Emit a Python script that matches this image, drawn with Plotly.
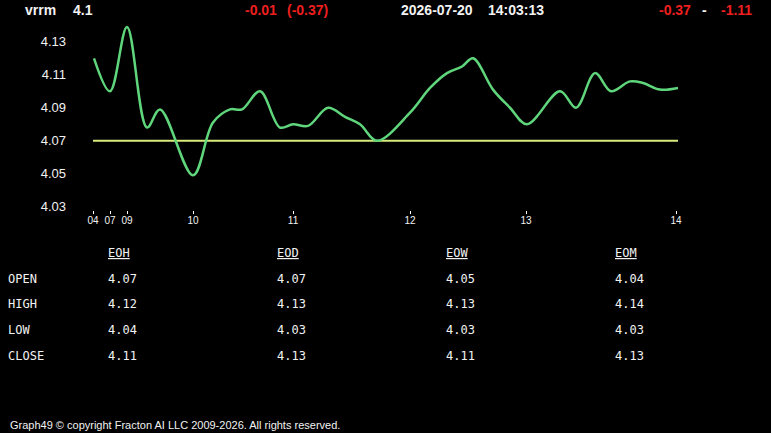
import plotly.graph_objects as go

# ---- data ----
t_pos = [1, 17, 34, 54, 67, 100, 120, 137, 149, 167, 187, 200, 215, 235, 252, 267, 284,
         317, 337, 354, 369, 380, 400, 417, 434, 467, 483, 502, 518, 537, 550, 567, 585]
prices = [4.120, 4.100, 4.139, 4.078, 4.089, 4.049, 4.081, 4.089, 4.089, 4.100, 4.078,
          4.080, 4.079, 4.090, 4.0845, 4.080, 4.070, 4.087, 4.102, 4.111, 4.115, 4.120,
          4.101, 4.090, 4.080, 4.100, 4.090, 4.111, 4.100, 4.106, 4.105, 4.101, 4.102]
ref_t = [0, 585]
ref_level = [4.07, 4.07]

tick_pos = [0, 17, 34, 100, 200, 317, 433, 583]
tick_labels = ["04", "07", "09", "10", "11", "12", "13", "14"]
y_ticks = [4.03, 4.05, 4.07, 4.09, 4.11, 4.13]

symbol = "vrrm"
last = "4.1"
change = "-0.01"
change_pct = "(-0.37)"
date_str = "2026-07-20"
time_str = "14:03:13"
range_lo = "-0.37"
range_hi = "-1.11"

table_cols = ["EOH", "EOD", "EOW", "EOM"]
table_rows = ["OPEN", "HIGH", "LOW", "CLOSE"]
table_vals = [
    ["4.07", "4.07", "4.05", "4.04"],
    ["4.12", "4.13", "4.13", "4.14"],
    ["4.04", "4.03", "4.03", "4.03"],
    ["4.11", "4.13", "4.11", "4.13"],
]
footer = "Graph49 © copyright Fracton AI LLC 2009-2026. All rights reserved."

# ---- layout geometry ----
W, H = 771, 433
L, R, T, B = 71, 78, 22.2, 222.7
PW, PH = W - L - R, H - T - B


def px(x):
    return (x - L) / PW


def py(y):
    return 1 - (y - T) / PH


GREEN = "#5fd67c"
YELLOW = "#d8ec7c"
RED = "#ee1f1f"
WHITE = "#f2f2f2"
SANS = "Arial, 'Liberation Sans', sans-serif"
MONO = "Consolas, 'DejaVu Sans Mono', monospace"

fig = go.Figure()
fig.add_trace(go.Scatter(x=ref_t, y=ref_level, mode="lines",
                         line=dict(color=YELLOW, width=2), hoverinfo="skip"))
fig.add_trace(go.Scatter(x=t_pos, y=prices, mode="lines",
                         line=dict(color=GREEN, width=2.5, shape="spline", smoothing=1.0)))

ann = []


def text(x, y, s, color=WHITE, size=14, bold=False, font=SANS):
    ann.append(dict(x=px(x), y=py(y), xref="paper", yref="paper", text=("<b>%s</b>" % s) if bold else s,
                    showarrow=False, xanchor="left", yanchor="middle",
                    font=dict(family=font, size=size, color=color)))


# header
text(23, 10, symbol, bold=True)
text(71, 10, last, bold=True)
text(243, 10, change, color=RED, bold=True)
text(285, 10, change_pct, color=RED, bold=True)
text(399, 10, date_str, bold=True)
text(486, 10, time_str, bold=True)
text(657, 10, range_lo, color=RED, bold=True)
text(700, 10, "-", bold=True)
text(719, 10, range_hi, color=RED, bold=True)

# table
col_x = [106, 275, 444, 613]
row_y = [279, 304, 330, 356]
for cx, c in zip(col_x, table_cols):
    text(cx, 253, "<u>%s</u>" % c, size=12, font=MONO)
for ry, r in zip(row_y, table_rows):
    text(6, ry, r, size=12, font=MONO)
for i, ry in enumerate(row_y):
    for j, cx in enumerate(col_x):
        text(cx, ry, table_vals[i][j], size=12, font=MONO)

# footer
text(8, 425, footer, size=11)

fig.update_layout(
    width=W, height=H,
    margin=dict(l=L, r=R, t=T, b=B),
    paper_bgcolor="black", plot_bgcolor="black",
    showlegend=False,
    annotations=ann,
    xaxis=dict(range=[L - 93, W - R - 93], tickvals=tick_pos, ticktext=tick_labels,
               showgrid=False, zeroline=False, showline=False,
               ticks="outside", ticklen=3, tickcolor="white", tickwidth=1,
               ticklabelstandoff=-2,
               tickfont=dict(family=SANS, size=10, color=WHITE), fixedrange=True),
    yaxis=dict(range=[4.028, 4.142], tickvals=y_ticks, ticktext=["%.2f" % v for v in y_ticks],
               showgrid=False, zeroline=False, showline=False, ticks="",
               ticklabelstandoff=4,
               tickfont=dict(family=SANS, size=13, color=WHITE), fixedrange=True),
)

fig.write_html("out.html", config={"displayModeBar": False})
